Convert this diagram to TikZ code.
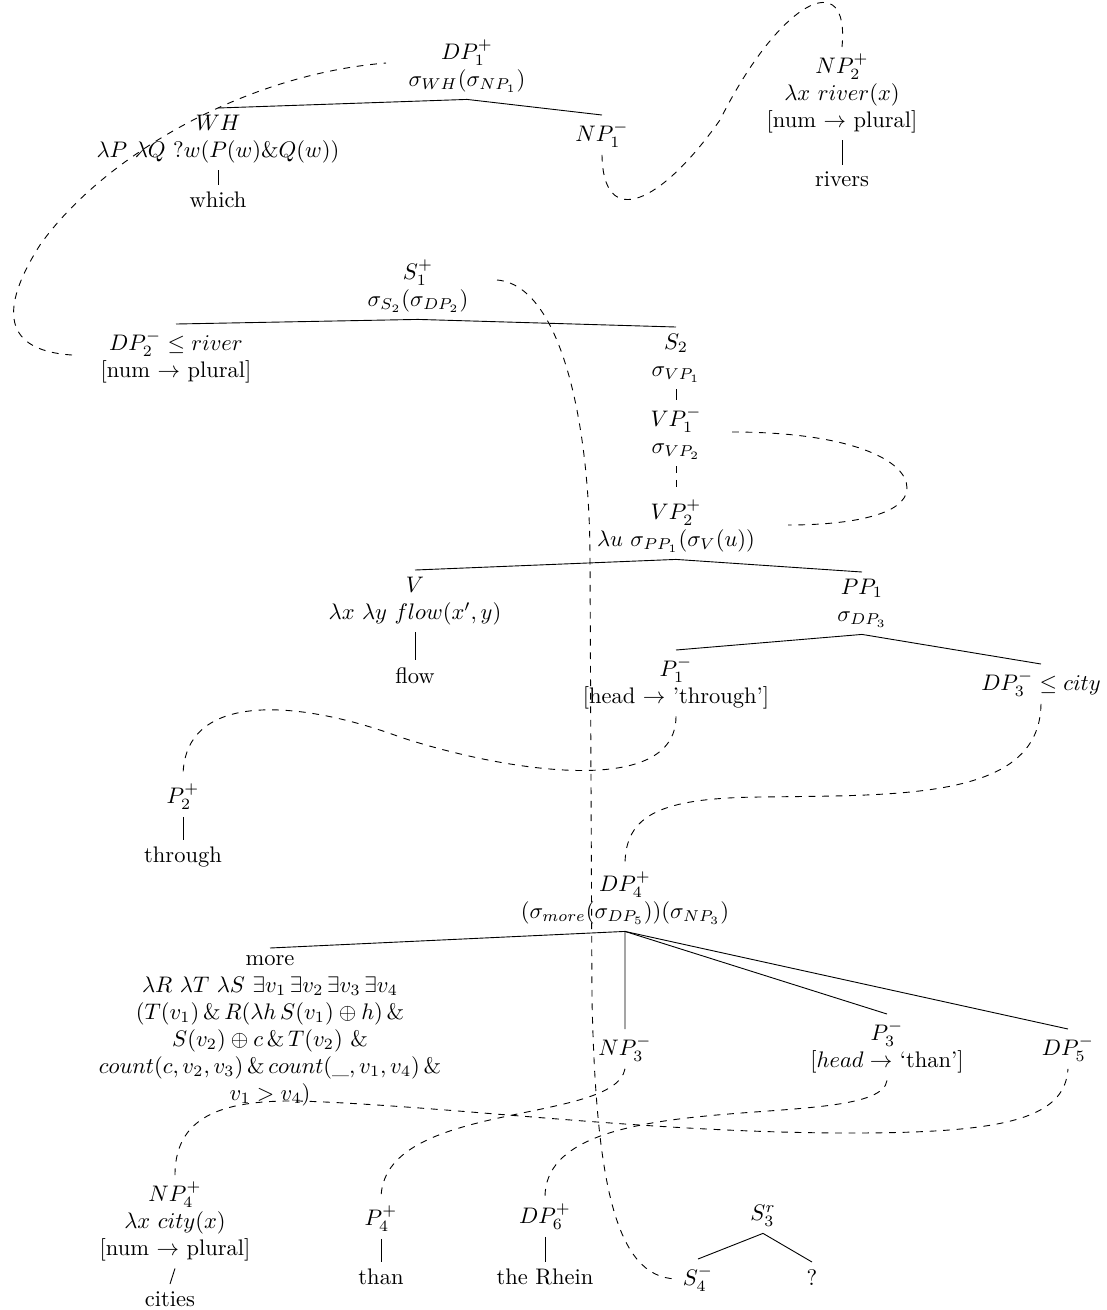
\documentclass[tikz,border=0pt]{standalone}
\begin{document}
\begin{tikzpicture}[x=0.4444pt,y=-0.4444pt,
  lbl/.style={align=center, inner sep=3pt, anchor=north},
  br/.style={line width=0.4pt},
  link/.style={dashed, line width=0.4pt}]
\useasboundingbox (0,0) rectangle (1107,1310);

% top tree
\node[lbl] (dp1) at (467,33) {$DP_1^+$\\$\sigma_{WH}(\sigma_{NP_1})$};
\node[lbl] (wh) at (218,108) {$WH$\\$\lambda P\ \lambda Q\ ?w(P(w)\&Q(w))$};
\node[lbl] (which) at (218,185) {which};
\node[lbl] (np1) at (602,115) {$NP_1^-$};
\node[lbl] (np2) at (842,47) {$NP_2^+$\\$\lambda x\ river(x)$\\{}[num $\rightarrow$ plural]};
\node[lbl] (rivers) at (842,165) {rivers};

% middle tree
\node[lbl] (s1) at (418,253) {$S_1^+$\\$\sigma_{S_2}(\sigma_{DP_2})$};
\node[lbl] (dp2) at (176,324) {$DP_2^-\leq river$\\{}[num $\rightarrow$ plural]};
\node[lbl] (s2) at (676,327) {$S_2$\\$\sigma_{VP_1}$};
\node[lbl] (vp1) at (676,400) {$VP_1^-$\\$\sigma_{VP_2}$};
\node[lbl] (vp2) at (676,493) {$VP_2^+$\\$\lambda u\ \sigma_{PP_1}(\sigma_V(u))$};
\node[lbl] (v) at (415,570) {$V$\\$\lambda x\ \lambda y\ flow(x',y)$};
\node[lbl] (flow) at (415,660) {flow};
\node[lbl] (pp1) at (862,572) {$PP_1$\\$\sigma_{DP_3}$};
\node[lbl] (p1) at (676,650) {$P_1^-$\\{}[head $\rightarrow$ 'through']};
\node[lbl] (dp3) at (1041,664) {$DP_3^-\leq city$};
\node[lbl] (p2) at (183,777) {$P_2^+$};
\node[lbl] (through) at (183,840) {through};

% lower tree
\node[lbl] (dp4) at (625,865) {$DP_4^+$\\$(\sigma_{more}(\sigma_{DP_5}))(\sigma_{NP_3})$};
\node[lbl] (more) at (270,948) {more\\
  $\lambda R\ \lambda T\ \lambda S\ \exists v_1\,\exists v_2\,\exists v_3\,\exists v_4$\\
  $(T(v_1)\,\&\,R(\lambda h\,S(v_1)\oplus h)\,\&$\\
  $S(v_2)\oplus c\,\&\,T(v_2)\ \&$\\
  $count(c,v_2,v_3)\,\&\,count(\_,v_1,v_4)\,\&$\\
  $v_1>v_4)$};
\node[lbl] (np3) at (625,1029) {$NP_3^-$};
\node[lbl] (p3) at (887,1014) {$P_3^-$\\$[head\rightarrow$ `than']};
\node[lbl] (dp5) at (1068,1029) {$DP_5^-$};

% bottom row
\node[lbl] (np4) at (175,1175) {$NP_4^+$\\$\lambda x\ city(x)$\\{}[num $\rightarrow$ plural]};
\node[lbl] (cities) at (170,1284) {cities};
\node[lbl] (p4) at (381,1199) {$P_4^+$};
\node[lbl] (than) at (381,1262) {than};
\node[lbl] (dp6) at (545,1197) {$DP_6^+$};
\node[lbl] (rhein) at (545,1262) {the Rhein};
\node[lbl] (s3) at (763,1198) {$S_3^r$};
\node[lbl] (s4) at (698,1259) {$S_4^-$};
\node[lbl] (q) at (812,1262) {?};

% tree branches
\draw[br] (wh.north) -- (dp1.south) -- (np1.north);
\draw[br] (wh.south) -- (which.north);
\draw[br] (np2.south) -- (rivers.north);
\draw[br] (dp2.north) -- (s1.south) -- (s2.north);
\draw[br] (s2.south) -- (vp1.north);
\draw[link] (vp1.south) -- (vp2.north);
\draw[br] (v.north) -- (vp2.south) -- (pp1.north);
\draw[br] (v.south) -- (flow.north);
\draw[br] (p1.north) -- (pp1.south) -- (dp3.north);
\draw[br] (p2.south) -- (through.north);
\draw[br] (more.north) -- (dp4.south) -- (np3.north);
\draw[br] (dp4.south) -- (p3.north);
\draw[br] (dp4.south) -- (dp5.north);
\draw[br] (np4.south) -- (cities.north);
\draw[br] (p4.south) -- (than.north);
\draw[br] (dp6.south) -- (rhein.north);
\draw[br] (s4.north) -- (s3.south) -- (q.north);

% dashed links
\coordinate (dp2out) at (72,355);
\coordinate (dp1in) at (386,63);
\draw[link] (dp2out) .. controls (-5,350) and (5,300) .. (40,245)
  .. controls (100,160) and (240,75) .. (dp1in);

\draw[link] (np1.south) .. controls (603,230) and (660,205) .. (720,120)
  .. controls (780,0) and (850,-35) .. (np2.north);

\coordinate (s1out) at (497,280);
\draw[link] (s1out) .. controls (560,285) and (590,420) .. (590,560)
  -- (592,1000) .. controls (596,1180) and (615,1277) .. (s4.west);

\coordinate (vp1out) at (732,432);
\coordinate (vp2in) at (788,525);
\draw[link] (vp1out) .. controls (850,432) and (907,460) .. (907,488)
  .. controls (907,515) and (850,525) .. (vp2in);

\draw[link] (p1.south) .. controls (676,800) and (500,770) .. (400,737)
  .. controls (300,700) and (183,690) .. (p2.north);

\draw[link] (dp3.south) .. controls (1040,800) and (900,795) .. (760,797)
  .. controls (660,798) and (625,815) .. (dp4.north);

\draw[link] (np3.south) .. controls (615,1125) and (381,1100) .. (p4.north);
\draw[link] (p3.south) .. controls (880,1135) and (545,1080) .. (dp6.north);
\draw[link] (np4.north) .. controls (175,1112) and (230,1100) .. (300,1101)
  .. controls (450,1106) and (650,1133) .. (850,1133)
  .. controls (1000,1133) and (1065,1120) .. (dp5.south);
\end{tikzpicture}
\end{document}
